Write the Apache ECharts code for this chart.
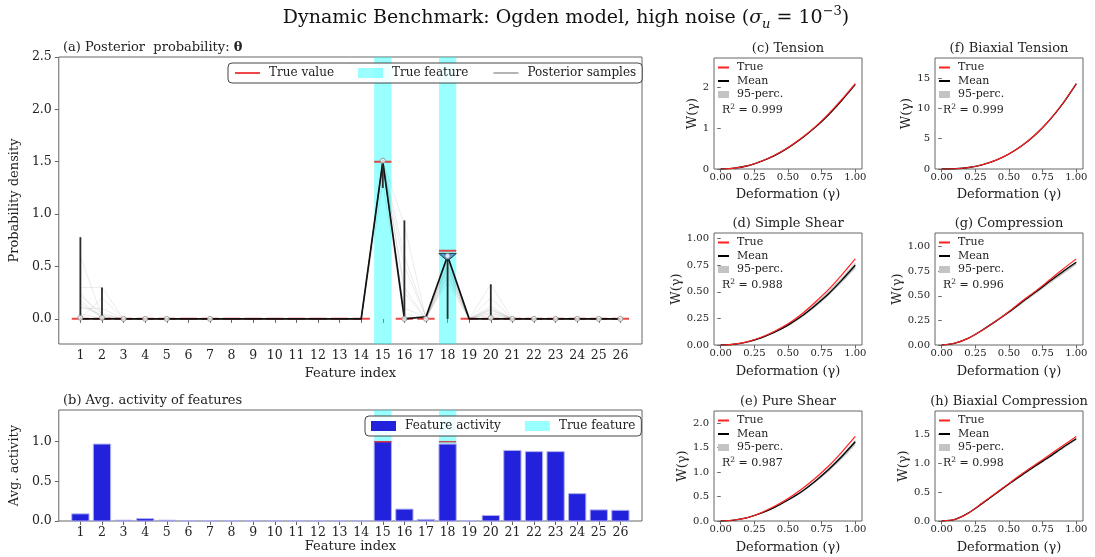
<!DOCTYPE html>
<html><head><meta charset="utf-8">
<script src="https://cdn.jsdelivr.net/npm/echarts@6/dist/echarts.min.js"></script>
<style>html,body{margin:0;padding:0;background:#fff}#c{width:1095px;height:557px}</style>
</head><body><div id="c"></div>
<script>
// ---------- Panel (a) / (b) data ----------
const featureIdx = [1,2,3,4,5,6,7,8,9,10,11,12,13,14,15,16,17,18,19,20,21,22,23,24,25,26];
const trueValues = [0,0,0,0,0,0,0,0,0,0,0,0,0,0,1.5,0,0,0.65,0,0,0,0,0,0,0,0];
const meanValues = [0,0,0,0,0,0,0,0,0,0,0,0,0,0,1.5,0,0.02,0.6,0,0,0,0,0,0,0,0];
const sampleA = [0.6,0.02,0,0,0,0,0,0,0,0,0,0,0,0,1.5,0.9,0,0.55,0,0.33,0,0,0,0,0,0];
const sampleB = [0.3,0.3,0,0,0,0,0,0,0,0,0,0,0,0,1.48,0.5,0.02,0.6,0,0.1,0,0,0,0,0,0];
const sampleC = [0.22,0.05,0,0,0,0,0,0,0,0,0,0,0,0,1.52,0.25,0,0.45,0,0.06,0,0,0,0,0,0];
const sampleD = [0.15,0.02,0,0,0,0,0,0,0,0,0,0,0,0,1.45,0.1,0.02,0.5,0,0.08,0,0,0,0,0,0];
const sampleE = [0.25,0,0,0,0,0,0,0,0,0,0,0,0,0,1.5,0.05,0,0.4,0,0.03,0,0,0,0,0,0];
const sampleF = [0.1,0.1,0,0,0,0,0,0,0,0,0,0,0,0,1.5,0.3,0,0.58,0,0.2,0,0,0,0,0,0];
const sampleG = [0.05,0,0,0,0,0,0,0,0,0,0,0,0,0,1.3,0,0.02,0.35,0,0,0,0,0,0,0,0];
const sampleH = [0,0.2,0,0,0,0,0,0,0,0,0,0,0,0,1.51,0,0,0.52,0,0.12,0,0,0,0,0,0];
const sampleI = [0.12,0.04,0,0,0,0,0,0,0,0,0,0,0,0,1.5,0.6,0.01,0.48,0,0.05,0,0,0,0,0,0];
const sampleJ = [0.18,0,0,0,0,0,0,0,0,0,0,0,0,0,1.49,0.02,0,0.42,0,0.09,0,0,0,0,0,0];
const violinX = [1,2,15,16,18,20];
const violinMin = [0,0,1.25,0,0,0];
const violinMax = [0.78,0.3,1.52,0.94,0.6,0.33];
const medianX = [1,2,3,4,5,7,15,16,17,18,20,21,22,23,24,25,26];
const medianY = [0.01,0.01,0,0,0,0,1.51,0,0,0.6,0.01,0,0,0,0,0,0];
const body18X = [17.6,18.4,18.28,18.06,17.94,17.72];
const body18Y = [0.625,0.625,0.6,0.565,0.565,0.6];
const trueFeatures = [15,18];
const trueActivity = [1,1];
const activity = [0.09,0.97,0.01,0.03,0.01,0,0,0,0,0,0,0,0,0,1.0,0.15,0.02,0.97,0,0.07,0.89,0.875,0.875,0.345,0.14,0.135];
const yTicksA = [0,0.5,1,1.5,2,2.5];
const yTicksB = [0,0.5,1];

// ---------- small panels ----------
const gamma = [0,0.1,0.2,0.3,0.4,0.5,0.6,0.7,0.8,0.9,1.0];
const gammaTicks = [0,0.25,0.5,0.75,1];
const tensionTrue = [0,0.02,0.08,0.19,0.34,0.53,0.76,1.03,1.35,1.71,2.1];
const tensionMean = [0,0.02,0.08,0.19,0.33,0.52,0.75,1.02,1.33,1.69,2.08];
const tensionLo   = [0,0.018,0.075,0.18,0.32,0.505,0.73,0.995,1.3,1.655,2.04];
const tensionHi   = [0,0.02,0.082,0.195,0.34,0.53,0.765,1.035,1.355,1.715,2.11];
const biaxTrue = [0,0.045,0.25,0.7,1.43,2.49,3.93,5.78,8.07,10.84,14.1];
const biaxMean = [0,0.045,0.25,0.69,1.42,2.47,3.9,5.74,8.02,10.78,14.05];
const biaxLo   = [0,0.04,0.24,0.67,1.39,2.43,3.85,5.67,7.93,10.66,13.9];
const biaxHi   = [0,0.047,0.255,0.705,1.44,2.5,3.94,5.8,8.1,10.88,14.2];
const shearTrue = [0,0.008,0.032,0.073,0.13,0.2,0.29,0.4,0.52,0.66,0.81];
const shearMean = [0,0.007,0.03,0.068,0.12,0.187,0.27,0.37,0.48,0.61,0.75];
const shearLo   = [0,0.006,0.027,0.062,0.11,0.175,0.255,0.35,0.46,0.585,0.72];
const shearHi   = [0,0.008,0.032,0.072,0.128,0.198,0.285,0.39,0.505,0.635,0.775];
const compTrue = [0,0.02,0.07,0.15,0.24,0.34,0.45,0.55,0.66,0.77,0.875];
const compMean = [0,0.02,0.07,0.15,0.24,0.335,0.44,0.54,0.645,0.745,0.84];
const compLo   = [0,0.018,0.066,0.143,0.23,0.322,0.423,0.52,0.622,0.72,0.815];
const compHi   = [0,0.021,0.074,0.157,0.25,0.345,0.45,0.552,0.657,0.757,0.852];
const pureTrue = [0,0.02,0.07,0.17,0.3,0.46,0.65,0.87,1.12,1.41,1.73];
const pureMean = [0,0.02,0.07,0.16,0.28,0.43,0.6,0.81,1.05,1.32,1.62];
const pureLo   = [0,0.018,0.065,0.15,0.265,0.41,0.575,0.775,1.0,1.265,1.55];
const pureHi   = [0,0.02,0.072,0.165,0.29,0.445,0.62,0.835,1.08,1.36,1.66];
const bcompTrue = [0,0.03,0.14,0.31,0.48,0.65,0.82,0.98,1.14,1.3,1.46];
const bcompMean = [0,0.03,0.14,0.3,0.47,0.64,0.8,0.96,1.11,1.27,1.42];
const bcompLo   = [0,0.027,0.132,0.288,0.455,0.62,0.78,0.935,1.085,1.245,1.395];
const bcompHi   = [0,0.031,0.145,0.31,0.48,0.65,0.81,0.972,1.125,1.285,1.437];

const FONT = 'DejaVu Serif';
const TXT = '#222';
const FRAME = '#666';

const chart = echarts.init(document.getElementById('c'));

const zip = (xs, ys) => xs.map((x, i) => [x, ys[i]]);

const grids = [
  {left:52, top:57, width:590, height:287},
  {left:52, top:410, width:590, height:111},
  {left:714, top:58, width:148, height:111},
  {left:714, top:233, width:148, height:112},
  {left:714, top:411, width:148, height:110},
  {left:935, top:58, width:148, height:111},
  {left:935, top:233, width:148, height:112},
  {left:935, top:411, width:148, height:110}
].map(g => Object.assign({show:true, borderColor:FRAME, borderWidth:1, backgroundColor:'transparent'}, g));

const nameStyle = {fontSize:13, color:TXT, fontFamily:FONT, fontWeight:'normal'};
const xAxes = [], yAxes = [];
// (a)
xAxes.push({type:'value', gridIndex:0, min:0, max:27,
  axisLine:{show:false}, splitLine:{show:false},
  axisTick:{customValues:featureIdx, length:4, lineStyle:{color:FRAME}},
  axisLabel:{customValues:featureIdx, fontSize:12.5, color:TXT, margin:5, fontFamily:FONT},
  name:'Feature index', nameLocation:'middle', nameGap:17, nameTextStyle:nameStyle});
yAxes.push({type:'value', gridIndex:0, min:-0.24, max:2.5,
  axisLine:{show:false}, splitLine:{show:false},
  axisTick:{show:true, customValues:yTicksA, length:4, lineStyle:{color:FRAME}},
  axisLabel:{customValues:yTicksA, fontSize:12.5, color:TXT, margin:7, fontFamily:FONT, formatter:v=>v.toFixed(1)},
  name:'Probability density', nameLocation:'middle', nameGap:27, nameTextStyle:nameStyle});
// (b)
xAxes.push({type:'value', gridIndex:1, min:0, max:27,
  axisLine:{show:false}, splitLine:{show:false},
  axisTick:{customValues:featureIdx, length:4, lineStyle:{color:FRAME}},
  axisLabel:{customValues:featureIdx, fontSize:12.5, color:TXT, margin:5, fontFamily:FONT},
  name:'Feature index', nameLocation:'middle', nameGap:17, nameTextStyle:nameStyle});
yAxes.push({type:'value', gridIndex:1, min:0, max:1.4,
  axisLine:{show:false}, splitLine:{show:false},
  axisTick:{show:true, customValues:yTicksB, length:4, lineStyle:{color:FRAME}},
  axisLabel:{customValues:yTicksB, fontSize:12.5, color:TXT, margin:7, fontFamily:FONT, formatter:v=>v.toFixed(1)},
  name:'Avg. activity', nameLocation:'middle', nameGap:29, nameTextStyle:nameStyle});

// small panels: [grid, title, yMax, yTicks, decimals, nameGap, xNameGap, true, mean, lo, hi, r2]
const panels = [
  [2, '(c) Tension', 2.73, [0,1,2], 0, 14, 19, tensionTrue, tensionMean, tensionLo, tensionHi, '0.999'],
  [3, '(d) Simple Shear', 1.053, [0,0.25,0.5,0.75,1], 2, 29, 20, shearTrue, shearMean, shearLo, shearHi, '0.988'],
  [4, '(e) Pure Shear', 2.25, [0,0.5,1,1.5,2], 1, 24, 20, pureTrue, pureMean, pureLo, pureHi, '0.987'],
  [5, '(f) Biaxial Tension', 18.3, [0,5,10,15], 0, 19, 19, biaxTrue, biaxMean, biaxLo, biaxHi, '0.999'],
  [6, '(g) Compression', 1.138, [0,0.25,0.5,0.75,1], 2, 29, 20, compTrue, compMean, compLo, compHi, '0.996'],
  [7, '(h) Biaxial Compression', 1.9, [0,0.5,1,1.5], 1, 25, 20, bcompTrue, bcompMean, bcompLo, bcompHi, '0.998']
];

const series = [];
const titles = [];
const legends = [];
const hideSym = {opacity:0};

const rs = (o) => Object.assign({fontFamily:FONT, color:'#111', fontWeight:'normal'}, o);
titles.push({text:'{a|Dynamic Benchmark: Ogden model, high noise (}{i|σ}{s|u}{a| = 10}{p|−3}{a|)}',
  left:566, top:5, padding:0, textAlign:'center',
  textStyle:{fontWeight:'normal', rich:{
    a:rs({fontSize:19, lineHeight:26}),
    i:rs({fontSize:19, fontStyle:'italic', lineHeight:26}),
    s:rs({fontSize:13, fontStyle:'italic', lineHeight:26, verticalAlign:'bottom'}),
    p:rs({fontSize:13, lineHeight:26, verticalAlign:'top'})
  }}});
titles.push({text:'{n|(a) Posterior  probability: }{b|θ}', left:63, top:41, padding:0,
  textStyle:{fontWeight:'normal', rich:{n:rs({fontSize:13, color:TXT}), b:rs({fontSize:13, fontWeight:'bold', color:TXT})}}});
titles.push({text:'(b) Avg. activity of features', left:63, top:394, padding:0,
  textStyle:{fontSize:13, fontFamily:FONT, color:TXT, fontWeight:'normal'}});

panels.forEach(p => {
  const [g, title, yMax, yTicks, dec, nGap, xGap, tr, mn, lo, hi, r2] = p;
  const gr = grids[g];
  xAxes.push({type:'value', gridIndex:g, min:-0.05, max:1.05,
    axisLine:{show:false}, splitLine:{show:false},
    axisTick:{customValues:gammaTicks, length:3.5, lineStyle:{color:FRAME}},
    axisLabel:{customValues:gammaTicks, fontSize:10, color:TXT, margin:3, fontFamily:FONT, formatter:v=>v.toFixed(2)},
    name:'Deformation (γ)', nameLocation:'middle', nameGap:xGap, nameTextStyle:nameStyle});
  yAxes.push({type:'value', gridIndex:g, min:0, max:yMax,
    axisLine:{show:false}, splitLine:{show:false},
    axisTick:{show:true, customValues:yTicks, length:3.5, lineStyle:{color:FRAME}},
    axisLabel:{customValues:yTicks, fontSize:10, color:TXT, margin:5, fontFamily:FONT, formatter:v=>v.toFixed(dec)},
    name:'W(γ)', nameLocation:'middle', nameGap:nGap, nameTextStyle:nameStyle});
  const xi = xAxes.length - 1, yi = yAxes.length - 1;
  series.push({type:'custom', name:'95-perc.', xAxisIndex:xi, yAxisIndex:yi, silent:true, z:2,
    data:[[0.5, 0]], itemStyle:{color:'#c4c4c4'},
    renderItem:(params, api) => {
      const up = gamma.map((x, i) => api.coord([x, hi[i]]));
      const dn = gamma.map((x, i) => api.coord([x, lo[i]])).reverse();
      return {type:'polygon', shape:{points:up.concat(dn)}, style:{fill:api.visual('color')}};
    }});
  series.push({type:'line', name:'Mean', xAxisIndex:xi, yAxisIndex:yi, smooth:0.25,
    data:zip(gamma, mn), symbol:'none', lineStyle:{color:'#000', width:1.3}, itemStyle:{color:'#000'}, z:3});
  series.push({type:'line', name:'True', xAxisIndex:xi, yAxisIndex:yi, smooth:0.25,
    data:zip(gamma, tr), symbol:'none', lineStyle:{color:'#ff2020', width:1.2}, itemStyle:{color:'#ff2020'}, z:4});
  titles.push({text:title, left:gr.left + gr.width/2, top:gr.top - 16, padding:0, textAlign:'center',
    textStyle:{fontSize:13, fontFamily:FONT, color:TXT, fontWeight:'normal'}});
  titles.push({text:'{a|R}{p|2}{a| = ' + r2 + '}', left:gr.left + 8, top:gr.top + 45, padding:0,
    textStyle:{fontWeight:'normal', rich:{a:rs({fontSize:11, color:TXT, lineHeight:14}),
                     p:rs({fontSize:7.5, color:TXT, lineHeight:14, verticalAlign:'top'})}}});
  legends.push({orient:'vertical', left:gr.left + 3, top:gr.top + 3, padding:0, itemGap:0.5,
    itemWidth:11, itemHeight:7, selectedMode:false,
    textStyle:{fontSize:11, fontFamily:FONT, color:TXT, lineHeight:13, padding:[0,0,0,3]},
    data:[{name:'True', itemStyle:hideSym}, {name:'Mean', itemStyle:hideSym}, {name:'95-perc.', icon:'rect'}]});
});

// ----- panel (a) series -----
function bandItem(params, api) {
  const cs = params.coordSys;
  const x0 = api.coord([api.value(0) - 0.4, 0])[0];
  const x1 = api.coord([api.value(0) + 0.4, 0])[0];
  return {type:'rect', shape:{x:x0, y:cs.y, width:x1 - x0, height:cs.height},
    style:{fill:api.visual('color')}};
}
series.push({type:'custom', name:'True feature', xAxisIndex:0, yAxisIndex:0, z:1,
  data:trueFeatures.map(f => [f, 0]), renderItem:bandItem, itemStyle:{color:'rgba(0,255,255,0.4)'}, silent:true});
series.push({type:'custom', name:'True feature', xAxisIndex:1, yAxisIndex:1, z:1,
  data:trueFeatures.map(f => [f, 0]), renderItem:bandItem, itemStyle:{color:'rgba(0,255,255,0.4)'}, silent:true});

const trueSeg = [];
featureIdx.forEach((f, i) => { trueSeg.push([f - 0.4, trueValues[i]], [f + 0.4, trueValues[i]], [f + 0.5, null]); });
series.push({type:'line', name:'True value', xAxisIndex:0, yAxisIndex:0, data:trueSeg, connectNulls:false,
  symbol:'none', lineStyle:{color:'rgba(235,25,25,0.8)', width:2}, itemStyle:{color:'#e00'}, silent:true, z:2});

[sampleA, sampleB, sampleC, sampleD, sampleE, sampleF, sampleG, sampleH, sampleI, sampleJ].forEach(s => {
  series.push({type:'line', name:'Posterior samples', xAxisIndex:0, yAxisIndex:0, data:zip(featureIdx, s),
    symbol:'none', lineStyle:{color:'rgba(0,0,0,0.08)', width:1}, itemStyle:{color:'#b0b0b0'}, silent:true, z:3});
});
series.push({type:'line', name:'Posterior mean', xAxisIndex:0, yAxisIndex:0, data:zip(featureIdx, meanValues),
  symbol:'none', lineStyle:{color:'#111', width:1.7}, silent:true, z:4});

series.push({type:'custom', name:'violin', xAxisIndex:0, yAxisIndex:0, z:5, silent:true,
  encode:{x:0, y:[1,2]},
  data:violinX.map((x, i) => [x, violinMin[i], violinMax[i]]),
  renderItem:(params, api) => {
    const a = api.coord([api.value(0), api.value(1)]);
    const b = api.coord([api.value(0), api.value(2)]);
    return {type:'line', shape:{x1:a[0], y1:a[1], x2:b[0], y2:b[1]}, style:{stroke:'#2a2a2a', lineWidth:1.8}};
  }});
series.push({type:'custom', name:'violin body', xAxisIndex:0, yAxisIndex:0, z:6, silent:true,
  data:[[18, 0.6]],
  renderItem:(params, api) => {
    const pts = body18X.map((x, i) => api.coord([x, body18Y[i]]));
    return {type:'polygon', shape:{points:pts}, style:{fill:'#4a9ad6', stroke:'#333', lineWidth:1}};
  }});
series.push({type:'scatter', name:'median', xAxisIndex:0, yAxisIndex:0, z:7, silent:true,
  data:zip(medianX, medianY), symbol:'circle', symbolSize:5,
  itemStyle:{color:'#fff', borderColor:'#888', borderWidth:1}});

// ----- panel (b) series -----
series.push({type:'custom', name:'Feature activity', xAxisIndex:1, yAxisIndex:1, z:3, silent:true,
  data:zip(featureIdx, activity), itemStyle:{color:'#2222dd'},
  renderItem:(params, api) => {
    const a = api.coord([api.value(0) - 0.4, api.value(1)]);
    const b = api.coord([api.value(0) + 0.4, 0]);
    return {type:'rect', shape:{x:a[0], y:a[1], width:b[0] - a[0], height:b[1] - a[1]},
      style:{fill:'#2222dd', stroke:'#b0b0f0', lineWidth:1}};
  }});
series.push({type:'custom', name:'true activity', xAxisIndex:1, yAxisIndex:1, z:4, silent:true,
  data:zip(trueFeatures, trueActivity),
  renderItem:(params, api) => {
    const a = api.coord([api.value(0) - 0.4, api.value(1)]);
    const b = api.coord([api.value(0) + 0.4, api.value(1)]);
    return {type:'line', shape:{x1:a[0], y1:a[1], x2:b[0], y2:b[1]}, style:{stroke:'rgba(230,0,0,0.7)', lineWidth:1.5}};
  }});

legends.push({left:228, top:63, orient:'horizontal', padding:[4,6,4,6], itemGap:24, itemWidth:25, itemHeight:10,
  selectedMode:false, backgroundColor:'rgba(255,255,255,0.85)', borderColor:'#444', borderWidth:1, borderRadius:4,
  textStyle:{fontSize:12, fontFamily:FONT, color:TXT, padding:[0,0,0,4]},
  data:[{name:'True value', itemStyle:hideSym}, {name:'True feature', icon:'rect'},
        {name:'Posterior samples', lineStyle:{color:'#b5b5b5', width:2}, itemStyle:hideSym}]});
legends.push({left:365, top:416, orient:'horizontal', padding:[4,6,4,6], itemGap:24, itemWidth:25, itemHeight:10,
  selectedMode:false, backgroundColor:'rgba(255,255,255,0.85)', borderColor:'#444', borderWidth:1, borderRadius:4,
  textStyle:{fontSize:12, fontFamily:FONT, color:TXT, padding:[0,0,0,4]},
  data:[{name:'Feature activity', icon:'rect'}, {name:'True feature', icon:'rect'}]});

chart.setOption({
  animation:false,
  backgroundColor:'#fff',
  textStyle:{fontFamily:FONT},
  title:titles,
  legend:legends,
  grid:grids,
  xAxis:xAxes,
  yAxis:yAxes,
  series:series
});
</script>
</body></html>
